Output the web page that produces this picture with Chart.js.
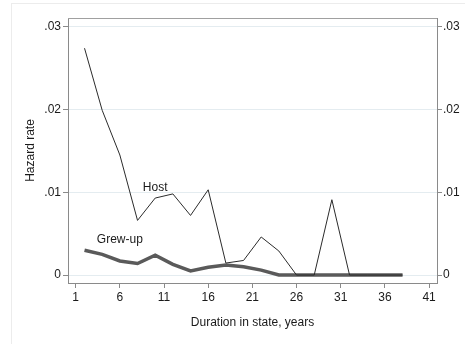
<!DOCTYPE html>
<html>
<head>
<meta charset="utf-8">
<script src="https://cdn.jsdelivr.net/npm/chart.js@4/dist/chart.umd.min.js"></script>
<style>
  html, body { margin: 0; padding: 0; background: #fff; }
  #wrap { width: 465px; height: 344px; position: relative; }
</style>
</head>
<body>
<div id="wrap"><canvas id="hazard"></canvas></div>
<script>
// durations (years) and hazard estimates
const durations = [2, 4, 6, 8, 10, 12, 14, 16, 18, 20, 22, 24, 26, 28, 30, 32, 34, 36, 38];
const hostRate = [0.0274, 0.0199, 0.0145, 0.0066, 0.0093, 0.0098, 0.0072, 0.0103, 0.00145, 0.00176,
  0.0046, 0.0029, 0, 0, 0.0091, 0, 0, 0, 0];
const grewUpRate = [0.0030, 0.0025, 0.0017, 0.0014, 0.0024, 0.0013, 0.0005, 0.00095, 0.0012, 0.001,
  0.0006, 0, 0, 0, 0, 0, 0, 0, 0];
const xTicks = [1, 6, 11, 16, 21, 26, 31, 36, 41];
const yTicks = [0, 0.01, 0.02, 0.03];
const yTickText = ["0", ".01", ".02", ".03"];

// inline labels placed next to each line
const lineLabels = [
  { text: "Host", x: 10, y: 0.0106 },
  { text: "Grew-up", x: 6, y: 0.00425 }
];

const FONT = "'Liberation Sans', Arial, sans-serif";
const GRID = "#e4ecf0";
const AXIS = "#8a8a8a";

const pts = (ys) => durations.map((d, i) => ({ x: d, y: ys[i] }));

const yTickSetup = (scale) => {
  scale.ticks = yTicks.map((v) => ({ value: v }));
};

const extras = {
  id: "extras",
  beforeDraw(chart) {
    const ctx = chart.ctx;
    ctx.save();
    ctx.strokeStyle = "#ececec";
    ctx.lineWidth = 1;
    ctx.strokeRect(11.5, 3.5, 500, 400);
    ctx.restore();
  },
  afterDatasetsDraw(chart) {
    const { ctx, chartArea, scales } = chart;
    ctx.save();
    // top frame line
    ctx.strokeStyle = "#a0a0a0";
    ctx.lineWidth = 1;
    ctx.beginPath();
    ctx.moveTo(chartArea.left, chartArea.top + 0.5);
    ctx.lineTo(chartArea.right, chartArea.top + 0.5);
    ctx.stroke();
    ctx.fillStyle = "#1a1a1a";
    ctx.font = "12px " + FONT;
    ctx.textAlign = "center";
    ctx.textBaseline = "middle";
    lineLabels.forEach((l) => {
      ctx.fillText(l.text, scales.x.getPixelForValue(l.x), scales.y.getPixelForValue(l.y));
    });
    ctx.restore();
  }
};

new Chart(document.getElementById("hazard"), {
  type: "line",
  data: {
    datasets: [
      {
        label: "Host",
        data: pts(hostRate),
        borderColor: "#2b2b2b",
        borderWidth: 1,
        pointRadius: 0,
        tension: 0,
        yAxisID: "y"
      },
      {
        label: "Grew-up",
        data: pts(grewUpRate),
        borderColor: "#5a5a5a",
        borderWidth: 3.5,
        pointRadius: 0,
        tension: 0,
        yAxisID: "y"
      }
    ]
  },
  options: {
    responsive: true,
    maintainAspectRatio: false,
    animation: false,
    layout: { padding: { top: 18, left: 0, right: 0, bottom: 0 } },
    plugins: { legend: { display: false }, tooltip: { enabled: false } },
    scales: {
      x: {
        type: "linear",
        min: 0.13,
        max: 41.9,
        afterBuildTicks: (s) => { s.ticks = xTicks.map((v) => ({ value: v })); },
        afterFit: (s) => { s.height = 61; },
        grid: { drawOnChartArea: false, tickLength: 5, color: AXIS },
        border: { color: AXIS },
        ticks: { color: "#1a1a1a", font: { family: FONT, size: 12 }, padding: 2, maxRotation: 0 },
        title: {
          display: true,
          text: "Duration in state, years",
          color: "#1a1a1a",
          font: { family: FONT, size: 12 },
          padding: { top: 0, bottom: 14 }
        }
      },
      y: {
        position: "left",
        min: -0.00096,
        max: 0.03105,
        afterBuildTicks: yTickSetup,
        afterFit: (s) => { s.width = 68; },
        grid: { color: GRID, tickColor: AXIS, tickLength: 5, drawTicks: true },
        border: { color: AXIS },
        ticks: {
          color: "#1a1a1a",
          font: { family: FONT, size: 12 },
          padding: 2,
          callback: (v) => yTickText[yTicks.indexOf(v)]
        },
        title: {
          display: true,
          text: "Hazard rate",
          color: "#1a1a1a",
          font: { family: FONT, size: 12 },
          padding: { top: 23, bottom: 0 }
        }
      },
      y2: {
        position: "right",
        min: -0.00096,
        max: 0.03105,
        afterBuildTicks: yTickSetup,
        afterFit: (s) => { s.width = 28; },
        grid: { drawOnChartArea: false, tickColor: AXIS, tickLength: 5 },
        border: { color: AXIS },
        ticks: {
          color: "#1a1a1a",
          font: { family: FONT, size: 12 },
          padding: 1,
          callback: (v) => yTickText[yTicks.indexOf(v)]
        }
      }
    }
  },
  plugins: [extras]
});
</script>
</body>
</html>
